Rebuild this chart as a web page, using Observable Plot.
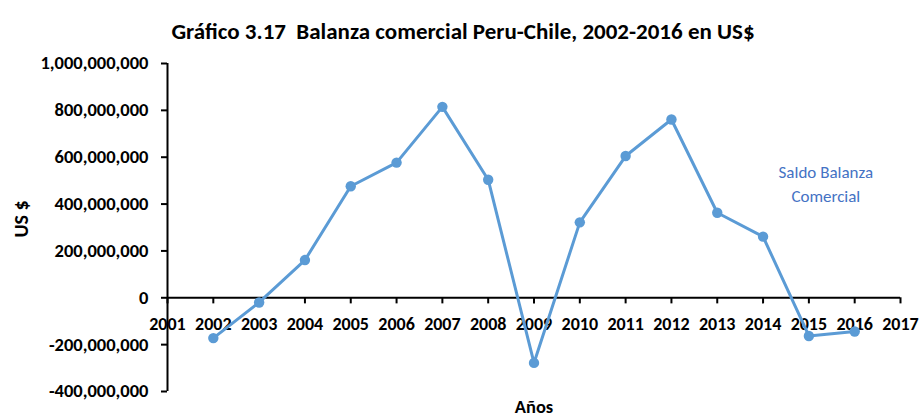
<!DOCTYPE html>
<html>
<head>
<meta charset="utf-8">
<script src="https://cdn.jsdelivr.net/npm/d3@7"></script>
<script src="https://cdn.jsdelivr.net/npm/@observablehq/plot@0.6"></script>
<style>
  html, body { margin: 0; padding: 0; background: #fff; }
  #chart svg { display: block; }
</style>
</head>
<body>
<div id="chart"></div>
<script>
const years = [2002, 2003, 2004, 2005, 2006, 2007, 2008, 2009, 2010, 2011, 2012, 2013, 2014, 2015, 2016];
const saldo = [-172e6, -20e6, 161e6, 476e6, 577e6, 815e6, 504e6, -278e6, 322e6, 605e6, 761e6, 363e6, 261e6, -163e6, -144e6];
const xTicks = [2001, 2002, 2003, 2004, 2005, 2006, 2007, 2008, 2009, 2010, 2011, 2012, 2013, 2014, 2015, 2016, 2017];
const yTicks = [-400e6, -200e6, 0, 200e6, 400e6, 600e6, 800e6, 1000e6];
const title = ["Gráfico 3.17  Balanza comercial Peru-Chile, 2002-2016 en US$"];
const seriesLabel = ["Saldo Balanza", "Comercial"];
const labelPos = {x: 2015.37, y: [535e6, 433e6]};

const data = years.map((y, i) => ({year: y, value: saldo[i]}));
const FONT = "Carlito, Calibri, 'Liberation Sans Narrow', 'Open Sans', sans-serif";
const fmt = d => d.toLocaleString("en-US");

const chart = Plot.plot({
  width: 921,
  height: 417,
  marginLeft: 167,
  marginRight: 21,
  marginTop: 63,
  marginBottom: 26,
  style: {fontFamily: FONT, background: "#fff", overflow: "visible"},
  x: {domain: [2001, 2017], axis: null},
  y: {domain: [-400e6, 1000e6], axis: null},
  marks: [
    // y axis
    Plot.axisY({ticks: yTicks, tickFormat: fmt, tickSize: 6, tickPadding: 13, strokeWidth: 2, stroke: "#000", fill: "#000", fontSize: 18.5, fontWeight: "bold", label: null}),
    Plot.ruleX([2001], {y1: -400e6, y2: 1000e6, stroke: "#000", strokeWidth: 2}),
    // x axis line at zero
    Plot.ruleY([0], {x1: 2001, x2: 2017, stroke: "#000", strokeWidth: 2}),
    Plot.ruleX(xTicks, {x: d => d, y1: 0, y2: -26e6, stroke: "#000", strokeWidth: 2}),
    Plot.text(xTicks, {x: d => d, y: 0, text: d => String(d), dy: 26, fontSize: 18, fontWeight: "bold", fill: "#000"}),
    // series
    Plot.line(data, {x: "year", y: "value", stroke: "#5B9BD5", strokeWidth: 3}),
    Plot.dot(data, {x: "year", y: "value", fill: "#5B9BD5", r: 5.2}),
    // series label
    Plot.text(seriesLabel, {x: labelPos.x, y: (d, i) => labelPos.y[i], text: d => d, fill: "#4472C4", fontSize: 17, letterSpacing: "1.3px"}),
    // title
    Plot.text(title, {frameAnchor: "top", dx: -71, dy: -41, text: d => d, fontSize: 23, fontWeight: "bold", fill: "#000"}),
    // axis titles
    Plot.text(["Años"], {frameAnchor: "bottom", dy: 21, text: d => d, fontSize: 18.5, fontWeight: "bold", fill: "#000"}),
    Plot.text(["US $"], {frameAnchor: "left", dx: -146, dy: 10, rotate: -90, text: d => d, fontSize: 20, fontWeight: "bold", fill: "#000"})
  ]
});
document.getElementById("chart").append(chart);
</script>
</body>
</html>
